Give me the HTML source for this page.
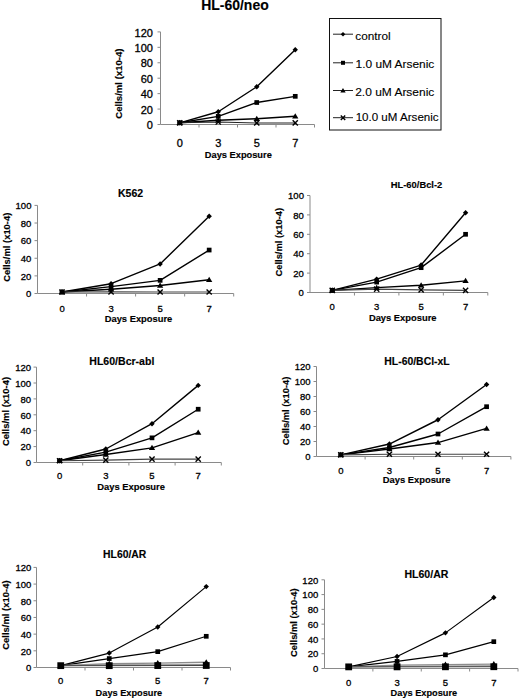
<!DOCTYPE html>
<html><head><meta charset="utf-8"><style>
html,body{margin:0;padding:0;background:#fff;overflow:hidden;width:520px;height:699px;}
svg{display:block;}
text{font-family:"Liberation Sans",sans-serif;}
</style></head><body>
<svg width="520" height="699" viewBox="0 0 520 699">
<rect width="520" height="699" fill="#fff"/>
<path d="M160.5,31.9V124.5H314.5" stroke="#8a8a8a" stroke-width="1" fill="none"/>
<path d="M157.5,124.50H160.5M157.5,109.07H160.5M157.5,93.63H160.5M157.5,78.20H160.5M157.5,62.77H160.5M157.5,47.33H160.5M157.5,31.90H160.5M199.00,124.5V127.5M237.50,124.5V127.5M276.00,124.5V127.5M314.50,124.5V127.5" stroke="#8a8a8a" stroke-width="1" fill="none"/>
<text transform="translate(146.74,129.20) scale(1.000,1)" font-size="11.0" font-weight="normal" fill="#000" stroke="#000" stroke-width="0.3">0</text>
<text transform="translate(140.63,113.77) scale(1.000,1)" font-size="11.0" font-weight="normal" fill="#000" stroke="#000" stroke-width="0.3">20</text>
<text transform="translate(140.63,98.33) scale(1.000,1)" font-size="11.0" font-weight="normal" fill="#000" stroke="#000" stroke-width="0.3">40</text>
<text transform="translate(140.63,82.90) scale(1.000,1)" font-size="11.0" font-weight="normal" fill="#000" stroke="#000" stroke-width="0.3">60</text>
<text transform="translate(140.63,67.47) scale(1.000,1)" font-size="11.0" font-weight="normal" fill="#000" stroke="#000" stroke-width="0.3">80</text>
<text transform="translate(134.53,52.03) scale(1.000,1)" font-size="11.0" font-weight="normal" fill="#000" stroke="#000" stroke-width="0.3">100</text>
<text transform="translate(134.53,36.60) scale(1.000,1)" font-size="11.0" font-weight="normal" fill="#000" stroke="#000" stroke-width="0.3">120</text>
<text transform="translate(176.70,147.00) scale(1.000,1)" font-size="11.0" font-weight="normal" fill="#000" stroke="#000" stroke-width="0.3">0</text>
<text transform="translate(215.22,147.00) scale(1.000,1)" font-size="11.0" font-weight="normal" fill="#000" stroke="#000" stroke-width="0.3">3</text>
<text transform="translate(253.70,147.00) scale(1.000,1)" font-size="11.0" font-weight="normal" fill="#000" stroke="#000" stroke-width="0.3">5</text>
<text transform="translate(292.20,147.00) scale(1.000,1)" font-size="11.0" font-weight="normal" fill="#000" stroke="#000" stroke-width="0.3">7</text>
<text transform="translate(201.29,10.40) scale(1.004,1)" font-size="13.9" font-weight="bold" fill="#000" stroke="#000" stroke-width="0.15">HL-60/neo</text>
<text transform="translate(204.80,157.80) scale(0.998,1)" font-size="9.3" font-weight="bold" fill="#000" stroke="#000" stroke-width="0.15">Days Exposure</text>
<text transform="translate(122.00,118.68) rotate(-90) scale(0.996,1)" font-size="9.6" font-weight="bold" fill="#000" stroke="#000" stroke-width="0.15">Cells/ml (x10-4)</text>
<path d="M179.75,122.80 L218.25,111.77 L256.75,86.77 L295.25,49.80" stroke="#000" stroke-width="1.4" fill="none" stroke-linejoin="round"/>
<path d="M179.75,122.80 L218.25,116.40 L256.75,102.51 L295.25,96.33" stroke="#000" stroke-width="1.4" fill="none" stroke-linejoin="round"/>
<path d="M179.75,122.80 L218.25,120.26 L256.75,118.79 L295.25,116.32" stroke="#000" stroke-width="1.4" fill="none" stroke-linejoin="round"/>
<path d="M179.75,122.80 L218.25,122.03 L256.75,122.96 L295.25,122.96" stroke="#222" stroke-width="1.1" fill="none" stroke-linejoin="round"/>
<polygon points="179.75,120.10 182.45,122.80 179.75,125.50 177.05,122.80" fill="#000"/>
<polygon points="218.25,109.07 220.95,111.77 218.25,114.47 215.55,111.77" fill="#000"/>
<polygon points="256.75,84.07 259.45,86.77 256.75,89.47 254.05,86.77" fill="#000"/>
<polygon points="295.25,47.10 297.95,49.80 295.25,52.50 292.55,49.80" fill="#000"/>
<rect x="177.40" y="120.45" width="4.70" height="4.70" fill="#000"/>
<rect x="215.90" y="114.05" width="4.70" height="4.70" fill="#000"/>
<rect x="254.40" y="100.16" width="4.70" height="4.70" fill="#000"/>
<rect x="292.90" y="93.98" width="4.70" height="4.70" fill="#000"/>
<polygon points="179.75,119.80 182.90,125.05 176.60,125.05" fill="#000"/>
<polygon points="218.25,117.26 221.40,122.51 215.10,122.51" fill="#000"/>
<polygon points="256.75,115.79 259.90,121.04 253.60,121.04" fill="#000"/>
<polygon points="295.25,113.32 298.40,118.57 292.10,118.57" fill="#000"/>
<path d="M177.15,120.20L182.35,125.40M182.35,120.20L177.15,125.40" stroke="#000" stroke-width="1.4" fill="none"/>
<path d="M215.65,119.43L220.85,124.63M220.85,119.43L215.65,124.63" stroke="#000" stroke-width="1.4" fill="none"/>
<path d="M254.15,120.36L259.35,125.56M259.35,120.36L254.15,125.56" stroke="#000" stroke-width="1.4" fill="none"/>
<path d="M292.65,120.36L297.85,125.56M297.85,120.36L292.65,125.56" stroke="#000" stroke-width="1.4" fill="none"/>
<path d="M37.5,205.4V293.5H233.7" stroke="#8a8a8a" stroke-width="1" fill="none"/>
<path d="M34.5,293.50H37.5M34.5,275.88H37.5M34.5,258.26H37.5M34.5,240.64H37.5M34.5,223.02H37.5M34.5,205.40H37.5M86.55,293.5V296.5M135.60,293.5V296.5M184.65,293.5V296.5M233.70,293.5V296.5" stroke="#8a8a8a" stroke-width="1" fill="none"/>
<text transform="translate(26.11,297.28) scale(1.000,1)" font-size="9.5" font-weight="normal" fill="#000" stroke="#000" stroke-width="0.3">0</text>
<text transform="translate(20.84,279.66) scale(1.000,1)" font-size="9.5" font-weight="normal" fill="#000" stroke="#000" stroke-width="0.3">20</text>
<text transform="translate(20.83,262.04) scale(1.000,1)" font-size="9.5" font-weight="normal" fill="#000" stroke="#000" stroke-width="0.3">40</text>
<text transform="translate(20.84,244.42) scale(1.000,1)" font-size="9.5" font-weight="normal" fill="#000" stroke="#000" stroke-width="0.3">60</text>
<text transform="translate(20.84,226.80) scale(1.000,1)" font-size="9.5" font-weight="normal" fill="#000" stroke="#000" stroke-width="0.3">80</text>
<text transform="translate(15.56,209.18) scale(1.000,1)" font-size="9.5" font-weight="normal" fill="#000" stroke="#000" stroke-width="0.3">100</text>
<text transform="translate(59.39,311.50) scale(1.000,1)" font-size="9.5" font-weight="normal" fill="#000" stroke="#000" stroke-width="0.3">0</text>
<text transform="translate(108.46,311.50) scale(1.000,1)" font-size="9.5" font-weight="normal" fill="#000" stroke="#000" stroke-width="0.3">3</text>
<text transform="translate(157.49,311.50) scale(1.000,1)" font-size="9.5" font-weight="normal" fill="#000" stroke="#000" stroke-width="0.3">5</text>
<text transform="translate(206.54,311.50) scale(1.000,1)" font-size="9.5" font-weight="normal" fill="#000" stroke="#000" stroke-width="0.3">7</text>
<text transform="translate(118.02,196.70) scale(1.020,1)" font-size="10.3" font-weight="bold" fill="#000" stroke="#000" stroke-width="0.15">K562</text>
<text transform="translate(104.69,321.80) scale(0.997,1)" font-size="9.4" font-weight="bold" fill="#000" stroke="#000" stroke-width="0.15">Days Exposure</text>
<text transform="translate(10.00,281.68) rotate(-90) scale(0.981,1)" font-size="9.6" font-weight="bold" fill="#000" stroke="#000" stroke-width="0.15">Cells/ml (x10-4)</text>
<path d="M62.02,291.99 L111.07,283.70 L160.12,263.97 L209.17,216.22" stroke="#000" stroke-width="1.4" fill="none" stroke-linejoin="round"/>
<path d="M62.02,291.99 L111.07,286.61 L160.12,280.36 L209.17,250.05" stroke="#000" stroke-width="1.4" fill="none" stroke-linejoin="round"/>
<path d="M62.02,291.99 L111.07,289.25 L160.12,285.55 L209.17,279.74" stroke="#000" stroke-width="1.4" fill="none" stroke-linejoin="round"/>
<path d="M62.02,291.99 L111.07,291.90 L160.12,291.99 L209.17,291.99" stroke="#444" stroke-width="1.1" fill="none" stroke-linejoin="round"/>
<polygon points="62.02,289.29 64.72,291.99 62.02,294.69 59.32,291.99" fill="#000"/>
<polygon points="111.07,281.00 113.77,283.70 111.07,286.40 108.37,283.70" fill="#000"/>
<polygon points="160.12,261.27 162.82,263.97 160.12,266.67 157.43,263.97" fill="#000"/>
<polygon points="209.17,213.52 211.87,216.22 209.17,218.92 206.47,216.22" fill="#000"/>
<rect x="59.67" y="289.64" width="4.70" height="4.70" fill="#000"/>
<rect x="108.72" y="284.26" width="4.70" height="4.70" fill="#000"/>
<rect x="157.78" y="278.01" width="4.70" height="4.70" fill="#000"/>
<rect x="206.82" y="247.70" width="4.70" height="4.70" fill="#000"/>
<polygon points="62.02,288.99 65.17,294.24 58.88,294.24" fill="#000"/>
<polygon points="111.07,286.25 114.22,291.50 107.92,291.50" fill="#000"/>
<polygon points="160.12,282.55 163.28,287.80 156.97,287.80" fill="#000"/>
<polygon points="209.17,276.74 212.32,281.99 206.02,281.99" fill="#000"/>
<path d="M59.42,289.39L64.62,294.59M64.62,289.39L59.42,294.59" stroke="#000" stroke-width="1.4" fill="none"/>
<path d="M108.47,289.30L113.67,294.50M113.67,289.30L108.47,294.50" stroke="#000" stroke-width="1.4" fill="none"/>
<path d="M157.53,289.39L162.72,294.59M162.72,289.39L157.53,294.59" stroke="#000" stroke-width="1.4" fill="none"/>
<path d="M206.57,289.39L211.77,294.59M211.77,289.39L206.57,294.59" stroke="#000" stroke-width="1.4" fill="none"/>
<path d="M310.0,195.5V292.5H487.8" stroke="#8a8a8a" stroke-width="1" fill="none"/>
<path d="M307.0,292.50H310.0M307.0,273.10H310.0M307.0,253.70H310.0M307.0,234.30H310.0M307.0,214.90H310.0M307.0,195.50H310.0M354.45,292.5V295.5M398.90,292.5V295.5M443.35,292.5V295.5M487.80,292.5V295.5" stroke="#8a8a8a" stroke-width="1" fill="none"/>
<text transform="translate(298.61,296.28) scale(1.000,1)" font-size="9.5" font-weight="normal" fill="#000" stroke="#000" stroke-width="0.3">0</text>
<text transform="translate(293.33,276.88) scale(1.000,1)" font-size="9.5" font-weight="normal" fill="#000" stroke="#000" stroke-width="0.3">20</text>
<text transform="translate(293.33,257.48) scale(1.000,1)" font-size="9.5" font-weight="normal" fill="#000" stroke="#000" stroke-width="0.3">40</text>
<text transform="translate(293.33,238.08) scale(1.000,1)" font-size="9.5" font-weight="normal" fill="#000" stroke="#000" stroke-width="0.3">60</text>
<text transform="translate(293.33,218.68) scale(1.000,1)" font-size="9.5" font-weight="normal" fill="#000" stroke="#000" stroke-width="0.3">80</text>
<text transform="translate(288.06,199.28) scale(1.000,1)" font-size="9.5" font-weight="normal" fill="#000" stroke="#000" stroke-width="0.3">100</text>
<text transform="translate(329.59,309.80) scale(1.000,1)" font-size="9.5" font-weight="normal" fill="#000" stroke="#000" stroke-width="0.3">0</text>
<text transform="translate(374.06,309.80) scale(1.000,1)" font-size="9.5" font-weight="normal" fill="#000" stroke="#000" stroke-width="0.3">3</text>
<text transform="translate(418.49,309.80) scale(1.000,1)" font-size="9.5" font-weight="normal" fill="#000" stroke="#000" stroke-width="0.3">5</text>
<text transform="translate(462.94,309.80) scale(1.000,1)" font-size="9.5" font-weight="normal" fill="#000" stroke="#000" stroke-width="0.3">7</text>
<text transform="translate(390.79,188.00) scale(0.946,1)" font-size="9.9" font-weight="bold" fill="#000" stroke="#000" stroke-width="0.15">HL-60/Bcl-2</text>
<text transform="translate(368.89,321.20) scale(0.996,1)" font-size="9.4" font-weight="bold" fill="#000" stroke="#000" stroke-width="0.15">Days Exposure</text>
<text transform="translate(282.40,276.47) rotate(-90) scale(0.974,1)" font-size="9.6" font-weight="bold" fill="#000" stroke="#000" stroke-width="0.15">Cells/ml (x10-4)</text>
<path d="M332.23,290.37 L376.68,279.11 L421.12,265.05 L465.58,212.77" stroke="#000" stroke-width="1.4" fill="none" stroke-linejoin="round"/>
<path d="M332.23,290.37 L376.68,282.12 L421.12,267.67 L465.58,234.30" stroke="#000" stroke-width="1.4" fill="none" stroke-linejoin="round"/>
<path d="M332.23,290.37 L376.68,287.65 L421.12,285.23 L465.58,280.86" stroke="#000" stroke-width="1.4" fill="none" stroke-linejoin="round"/>
<path d="M332.23,290.37 L376.68,289.11 L421.12,289.88 L465.58,290.37" stroke="#444" stroke-width="1.1" fill="none" stroke-linejoin="round"/>
<polygon points="332.23,287.67 334.93,290.37 332.23,293.07 329.53,290.37" fill="#000"/>
<polygon points="376.68,276.41 379.38,279.11 376.68,281.81 373.98,279.11" fill="#000"/>
<polygon points="421.12,262.35 423.82,265.05 421.12,267.75 418.43,265.05" fill="#000"/>
<polygon points="465.58,210.07 468.28,212.77 465.58,215.47 462.88,212.77" fill="#000"/>
<rect x="329.88" y="288.02" width="4.70" height="4.70" fill="#000"/>
<rect x="374.32" y="279.77" width="4.70" height="4.70" fill="#000"/>
<rect x="418.77" y="265.32" width="4.70" height="4.70" fill="#000"/>
<rect x="463.23" y="231.95" width="4.70" height="4.70" fill="#000"/>
<polygon points="332.23,287.37 335.38,292.62 329.08,292.62" fill="#000"/>
<polygon points="376.68,284.65 379.82,289.90 373.53,289.90" fill="#000"/>
<polygon points="421.12,282.23 424.27,287.48 417.98,287.48" fill="#000"/>
<polygon points="465.58,277.86 468.73,283.11 462.43,283.11" fill="#000"/>
<path d="M329.62,287.77L334.83,292.97M334.83,287.77L329.62,292.97" stroke="#000" stroke-width="1.4" fill="none"/>
<path d="M374.07,286.50L379.28,291.71M379.28,286.50L374.07,291.71" stroke="#000" stroke-width="1.4" fill="none"/>
<path d="M418.52,287.28L423.73,292.48M423.73,287.28L418.52,292.48" stroke="#000" stroke-width="1.4" fill="none"/>
<path d="M462.98,287.77L468.18,292.97M468.18,287.77L462.98,292.97" stroke="#000" stroke-width="1.4" fill="none"/>
<path d="M36.5,367.1V462.5H221.3" stroke="#8a8a8a" stroke-width="1" fill="none"/>
<path d="M33.5,462.50H36.5M33.5,446.60H36.5M33.5,430.70H36.5M33.5,414.80H36.5M33.5,398.90H36.5M33.5,383.00H36.5M33.5,367.10H36.5M82.70,462.5V465.5M128.90,462.5V465.5M175.10,462.5V465.5M221.30,462.5V465.5" stroke="#8a8a8a" stroke-width="1" fill="none"/>
<text transform="translate(25.81,466.28) scale(1.000,1)" font-size="9.5" font-weight="normal" fill="#000" stroke="#000" stroke-width="0.3">0</text>
<text transform="translate(20.53,450.38) scale(1.000,1)" font-size="9.5" font-weight="normal" fill="#000" stroke="#000" stroke-width="0.3">20</text>
<text transform="translate(20.53,434.48) scale(1.000,1)" font-size="9.5" font-weight="normal" fill="#000" stroke="#000" stroke-width="0.3">40</text>
<text transform="translate(20.53,418.58) scale(1.000,1)" font-size="9.5" font-weight="normal" fill="#000" stroke="#000" stroke-width="0.3">60</text>
<text transform="translate(20.54,402.68) scale(1.000,1)" font-size="9.5" font-weight="normal" fill="#000" stroke="#000" stroke-width="0.3">80</text>
<text transform="translate(15.26,386.78) scale(1.000,1)" font-size="9.5" font-weight="normal" fill="#000" stroke="#000" stroke-width="0.3">100</text>
<text transform="translate(15.26,370.88) scale(1.000,1)" font-size="9.5" font-weight="normal" fill="#000" stroke="#000" stroke-width="0.3">120</text>
<text transform="translate(56.96,479.20) scale(1.000,1)" font-size="9.5" font-weight="normal" fill="#000" stroke="#000" stroke-width="0.3">0</text>
<text transform="translate(103.19,479.20) scale(1.000,1)" font-size="9.5" font-weight="normal" fill="#000" stroke="#000" stroke-width="0.3">3</text>
<text transform="translate(149.36,479.20) scale(1.000,1)" font-size="9.5" font-weight="normal" fill="#000" stroke="#000" stroke-width="0.3">5</text>
<text transform="translate(195.56,479.20) scale(1.000,1)" font-size="9.5" font-weight="normal" fill="#000" stroke="#000" stroke-width="0.3">7</text>
<text transform="translate(89.31,364.70) scale(1.056,1)" font-size="10.0" font-weight="bold" fill="#000" stroke="#000" stroke-width="0.15">HL60/Bcr-abl</text>
<text transform="translate(97.19,490.20) scale(1.000,1)" font-size="9.4" font-weight="bold" fill="#000" stroke="#000" stroke-width="0.15">Days Exposure</text>
<text transform="translate(8.70,446.08) rotate(-90) scale(0.983,1)" font-size="9.6" font-weight="bold" fill="#000" stroke="#000" stroke-width="0.15">Cells/ml (x10-4)</text>
<path d="M59.60,460.75 L105.80,448.99 L152.00,423.70 L198.20,385.38" stroke="#000" stroke-width="1.4" fill="none" stroke-linejoin="round"/>
<path d="M59.60,460.75 L105.80,452.17 L152.00,437.86 L198.20,409.24" stroke="#000" stroke-width="1.4" fill="none" stroke-linejoin="round"/>
<path d="M59.60,460.75 L105.80,454.55 L152.00,447.87 L198.20,432.61" stroke="#000" stroke-width="1.4" fill="none" stroke-linejoin="round"/>
<path d="M59.60,460.75 L105.80,460.12 L152.00,459.16 L198.20,459.08" stroke="#444" stroke-width="1.1" fill="none" stroke-linejoin="round"/>
<polygon points="59.60,458.05 62.30,460.75 59.60,463.45 56.90,460.75" fill="#000"/>
<polygon points="105.80,446.29 108.50,448.99 105.80,451.69 103.10,448.99" fill="#000"/>
<polygon points="152.00,421.00 154.70,423.70 152.00,426.40 149.30,423.70" fill="#000"/>
<polygon points="198.20,382.69 200.90,385.38 198.20,388.08 195.50,385.38" fill="#000"/>
<rect x="57.25" y="458.40" width="4.70" height="4.70" fill="#000"/>
<rect x="103.45" y="449.81" width="4.70" height="4.70" fill="#000"/>
<rect x="149.65" y="435.50" width="4.70" height="4.70" fill="#000"/>
<rect x="195.85" y="406.88" width="4.70" height="4.70" fill="#000"/>
<polygon points="59.60,457.75 62.75,463.00 56.45,463.00" fill="#000"/>
<polygon points="105.80,451.55 108.95,456.80 102.65,456.80" fill="#000"/>
<polygon points="152.00,444.87 155.15,450.12 148.85,450.12" fill="#000"/>
<polygon points="198.20,429.61 201.35,434.86 195.05,434.86" fill="#000"/>
<path d="M57.00,458.15L62.20,463.35M62.20,458.15L57.00,463.35" stroke="#000" stroke-width="1.4" fill="none"/>
<path d="M103.20,457.51L108.40,462.72M108.40,457.51L103.20,462.72" stroke="#000" stroke-width="1.4" fill="none"/>
<path d="M149.40,456.56L154.60,461.76M154.60,456.56L149.40,461.76" stroke="#000" stroke-width="1.4" fill="none"/>
<path d="M195.60,456.48L200.80,461.68M200.80,456.48L195.60,461.68" stroke="#000" stroke-width="1.4" fill="none"/>
<path d="M316.5,366.5V456.5H510.9" stroke="#8a8a8a" stroke-width="1" fill="none"/>
<path d="M313.5,456.50H316.5M313.5,441.50H316.5M313.5,426.50H316.5M313.5,411.50H316.5M313.5,396.50H316.5M313.5,381.50H316.5M313.5,366.50H316.5M365.10,456.5V459.5M413.70,456.5V459.5M462.30,456.5V459.5M510.90,456.5V459.5" stroke="#8a8a8a" stroke-width="1" fill="none"/>
<text transform="translate(305.31,460.28) scale(1.000,1)" font-size="9.5" font-weight="normal" fill="#000" stroke="#000" stroke-width="0.3">0</text>
<text transform="translate(300.03,445.28) scale(1.000,1)" font-size="9.5" font-weight="normal" fill="#000" stroke="#000" stroke-width="0.3">20</text>
<text transform="translate(300.03,430.28) scale(1.000,1)" font-size="9.5" font-weight="normal" fill="#000" stroke="#000" stroke-width="0.3">40</text>
<text transform="translate(300.03,415.28) scale(1.000,1)" font-size="9.5" font-weight="normal" fill="#000" stroke="#000" stroke-width="0.3">60</text>
<text transform="translate(300.03,400.28) scale(1.000,1)" font-size="9.5" font-weight="normal" fill="#000" stroke="#000" stroke-width="0.3">80</text>
<text transform="translate(294.76,385.28) scale(1.000,1)" font-size="9.5" font-weight="normal" fill="#000" stroke="#000" stroke-width="0.3">100</text>
<text transform="translate(294.76,370.28) scale(1.000,1)" font-size="9.5" font-weight="normal" fill="#000" stroke="#000" stroke-width="0.3">120</text>
<text transform="translate(338.16,473.70) scale(1.000,1)" font-size="9.5" font-weight="normal" fill="#000" stroke="#000" stroke-width="0.3">0</text>
<text transform="translate(386.79,473.70) scale(1.000,1)" font-size="9.5" font-weight="normal" fill="#000" stroke="#000" stroke-width="0.3">3</text>
<text transform="translate(435.36,473.70) scale(1.000,1)" font-size="9.5" font-weight="normal" fill="#000" stroke="#000" stroke-width="0.3">5</text>
<text transform="translate(483.96,473.70) scale(1.000,1)" font-size="9.5" font-weight="normal" fill="#000" stroke="#000" stroke-width="0.3">7</text>
<text transform="translate(384.32,364.90) scale(1.021,1)" font-size="10.2" font-weight="bold" fill="#000" stroke="#000" stroke-width="0.15">HL-60/BCl-xL</text>
<text transform="translate(382.69,483.00) scale(1.000,1)" font-size="9.4" font-weight="bold" fill="#000" stroke="#000" stroke-width="0.15">Days Exposure</text>
<text transform="translate(288.90,445.17) rotate(-90) scale(0.974,1)" font-size="9.6" font-weight="bold" fill="#000" stroke="#000" stroke-width="0.15">Cells/ml (x10-4)</text>
<path d="M340.80,454.85 L389.40,444.05 L438.00,419.75 L486.60,384.50" stroke="#000" stroke-width="1.4" fill="none" stroke-linejoin="round"/>
<path d="M340.80,454.85 L389.40,447.50 L438.00,434.00 L486.60,406.70" stroke="#000" stroke-width="1.4" fill="none" stroke-linejoin="round"/>
<path d="M340.80,454.85 L389.40,449.00 L438.00,442.55 L486.60,428.45" stroke="#000" stroke-width="1.4" fill="none" stroke-linejoin="round"/>
<path d="M340.80,454.85 L389.40,454.25 L438.00,454.25 L486.60,454.25" stroke="#444" stroke-width="1.1" fill="none" stroke-linejoin="round"/>
<polygon points="340.80,452.15 343.50,454.85 340.80,457.55 338.10,454.85" fill="#000"/>
<polygon points="389.40,441.35 392.10,444.05 389.40,446.75 386.70,444.05" fill="#000"/>
<polygon points="438.00,417.05 440.70,419.75 438.00,422.45 435.30,419.75" fill="#000"/>
<polygon points="486.60,381.80 489.30,384.50 486.60,387.20 483.90,384.50" fill="#000"/>
<rect x="338.45" y="452.50" width="4.70" height="4.70" fill="#000"/>
<rect x="387.05" y="445.15" width="4.70" height="4.70" fill="#000"/>
<rect x="435.65" y="431.65" width="4.70" height="4.70" fill="#000"/>
<rect x="484.25" y="404.35" width="4.70" height="4.70" fill="#000"/>
<polygon points="340.80,451.85 343.95,457.10 337.65,457.10" fill="#000"/>
<polygon points="389.40,446.00 392.55,451.25 386.25,451.25" fill="#000"/>
<polygon points="438.00,439.55 441.15,444.80 434.85,444.80" fill="#000"/>
<polygon points="486.60,425.45 489.75,430.70 483.45,430.70" fill="#000"/>
<path d="M338.20,452.25L343.40,457.45M343.40,452.25L338.20,457.45" stroke="#000" stroke-width="1.4" fill="none"/>
<path d="M386.80,451.65L392.00,456.85M392.00,451.65L386.80,456.85" stroke="#000" stroke-width="1.4" fill="none"/>
<path d="M435.40,451.65L440.60,456.85M440.60,451.65L435.40,456.85" stroke="#000" stroke-width="1.4" fill="none"/>
<path d="M484.00,451.65L489.20,456.85M489.20,451.65L484.00,456.85" stroke="#000" stroke-width="1.4" fill="none"/>
<path d="M36.5,567.4V667.5H230.5" stroke="#8a8a8a" stroke-width="1" fill="none"/>
<path d="M33.5,667.50H36.5M33.5,650.82H36.5M33.5,634.13H36.5M33.5,617.45H36.5M33.5,600.77H36.5M33.5,584.08H36.5M33.5,567.40H36.5M85.00,667.5V670.5M133.50,667.5V670.5M182.00,667.5V670.5M230.50,667.5V670.5" stroke="#8a8a8a" stroke-width="1" fill="none"/>
<text transform="translate(26.01,671.28) scale(1.000,1)" font-size="9.5" font-weight="normal" fill="#000" stroke="#000" stroke-width="0.3">0</text>
<text transform="translate(20.73,654.59) scale(1.000,1)" font-size="9.5" font-weight="normal" fill="#000" stroke="#000" stroke-width="0.3">20</text>
<text transform="translate(20.73,637.91) scale(1.000,1)" font-size="9.5" font-weight="normal" fill="#000" stroke="#000" stroke-width="0.3">40</text>
<text transform="translate(20.73,621.23) scale(1.000,1)" font-size="9.5" font-weight="normal" fill="#000" stroke="#000" stroke-width="0.3">60</text>
<text transform="translate(20.73,604.54) scale(1.000,1)" font-size="9.5" font-weight="normal" fill="#000" stroke="#000" stroke-width="0.3">80</text>
<text transform="translate(15.46,587.86) scale(1.000,1)" font-size="9.5" font-weight="normal" fill="#000" stroke="#000" stroke-width="0.3">100</text>
<text transform="translate(15.46,571.18) scale(1.000,1)" font-size="9.5" font-weight="normal" fill="#000" stroke="#000" stroke-width="0.3">120</text>
<text transform="translate(58.11,684.20) scale(1.000,1)" font-size="9.5" font-weight="normal" fill="#000" stroke="#000" stroke-width="0.3">0</text>
<text transform="translate(106.64,684.20) scale(1.000,1)" font-size="9.5" font-weight="normal" fill="#000" stroke="#000" stroke-width="0.3">3</text>
<text transform="translate(155.11,684.20) scale(1.000,1)" font-size="9.5" font-weight="normal" fill="#000" stroke="#000" stroke-width="0.3">5</text>
<text transform="translate(203.61,684.20) scale(1.000,1)" font-size="9.5" font-weight="normal" fill="#000" stroke="#000" stroke-width="0.3">7</text>
<text transform="translate(103.12,557.70) scale(0.999,1)" font-size="10.4" font-weight="bold" fill="#000" stroke="#000" stroke-width="0.15">HL60/AR</text>
<text transform="translate(95.60,695.90) scale(0.993,1)" font-size="9.3" font-weight="bold" fill="#000" stroke="#000" stroke-width="0.15">Days Exposure</text>
<text transform="translate(8.90,649.78) rotate(-90) scale(0.987,1)" font-size="9.6" font-weight="bold" fill="#000" stroke="#000" stroke-width="0.15">Cells/ml (x10-4)</text>
<path d="M60.75,665.66 L109.25,653.07 L157.75,626.96 L206.25,586.59" stroke="#000" stroke-width="1.15" fill="none" stroke-linejoin="round"/>
<path d="M60.75,665.66 L109.25,658.57 L157.75,651.65 L206.25,636.30" stroke="#000" stroke-width="1.15" fill="none" stroke-linejoin="round"/>
<path d="M60.75,665.66 L109.25,665.00 L157.75,664.83 L206.25,664.66" stroke="#8c8c8c" stroke-width="1.3" fill="none" stroke-linejoin="round"/>
<path d="M60.75,665.66 L109.25,663.75 L157.75,663.08 L206.25,662.24" stroke="#8c8c8c" stroke-width="1.3" fill="none" stroke-linejoin="round"/>
<path d="M60.75,665.66 L109.25,665.66 L157.75,665.58 L206.25,665.50" stroke="#444" stroke-width="1.0" fill="none" stroke-linejoin="round"/>
<path d="M60.75,665.66 L109.25,663.75 L157.75,663.08 L206.25,662.24" stroke="none" stroke-width="1.15" fill="none" stroke-linejoin="round"/>
<polygon points="60.75,662.96 63.45,665.66 60.75,668.36 58.05,665.66" fill="#000"/>
<polygon points="109.25,650.37 111.95,653.07 109.25,655.77 106.55,653.07" fill="#000"/>
<polygon points="157.75,624.26 160.45,626.96 157.75,629.66 155.05,626.96" fill="#000"/>
<polygon points="206.25,583.89 208.95,586.59 206.25,589.29 203.55,586.59" fill="#000"/>
<rect x="58.40" y="663.31" width="4.70" height="4.70" fill="#000"/>
<rect x="106.90" y="656.22" width="4.70" height="4.70" fill="#000"/>
<rect x="155.40" y="649.30" width="4.70" height="4.70" fill="#000"/>
<rect x="203.90" y="633.95" width="4.70" height="4.70" fill="#000"/>
<rect x="57.35" y="662.26" width="6.80" height="6.80" fill="#000"/>
<rect x="105.85" y="662.26" width="6.80" height="6.80" fill="#000"/>
<rect x="154.35" y="662.18" width="6.80" height="6.80" fill="#000"/>
<rect x="202.85" y="662.10" width="6.80" height="6.80" fill="#000"/>
<polygon points="60.75,662.66 63.90,667.91 57.60,667.91" fill="#000"/>
<polygon points="109.25,660.75 112.40,666.00 106.10,666.00" fill="#000"/>
<polygon points="157.75,660.08 160.90,665.33 154.60,665.33" fill="#000"/>
<polygon points="206.25,659.24 209.40,664.49 203.10,664.49" fill="#000"/>
<path d="M324.5,579.8V668.5H518.0" stroke="#8a8a8a" stroke-width="1" fill="none"/>
<path d="M321.5,668.50H324.5M321.5,653.72H324.5M321.5,638.93H324.5M321.5,624.15H324.5M321.5,609.37H324.5M321.5,594.58H324.5M321.5,579.80H324.5M372.88,668.5V671.5M421.25,668.5V671.5M469.62,668.5V671.5M518.00,668.5V671.5" stroke="#8a8a8a" stroke-width="1" fill="none"/>
<text transform="translate(312.91,672.28) scale(1.000,1)" font-size="9.5" font-weight="normal" fill="#000" stroke="#000" stroke-width="0.3">0</text>
<text transform="translate(307.63,657.49) scale(1.000,1)" font-size="9.5" font-weight="normal" fill="#000" stroke="#000" stroke-width="0.3">20</text>
<text transform="translate(307.63,642.71) scale(1.000,1)" font-size="9.5" font-weight="normal" fill="#000" stroke="#000" stroke-width="0.3">40</text>
<text transform="translate(307.63,627.93) scale(1.000,1)" font-size="9.5" font-weight="normal" fill="#000" stroke="#000" stroke-width="0.3">60</text>
<text transform="translate(307.63,613.14) scale(1.000,1)" font-size="9.5" font-weight="normal" fill="#000" stroke="#000" stroke-width="0.3">80</text>
<text transform="translate(302.36,598.36) scale(1.000,1)" font-size="9.5" font-weight="normal" fill="#000" stroke="#000" stroke-width="0.3">100</text>
<text transform="translate(302.36,583.58) scale(1.000,1)" font-size="9.5" font-weight="normal" fill="#000" stroke="#000" stroke-width="0.3">120</text>
<text transform="translate(346.05,685.70) scale(1.000,1)" font-size="9.5" font-weight="normal" fill="#000" stroke="#000" stroke-width="0.3">0</text>
<text transform="translate(394.45,685.70) scale(1.000,1)" font-size="9.5" font-weight="normal" fill="#000" stroke="#000" stroke-width="0.3">3</text>
<text transform="translate(442.80,685.70) scale(1.000,1)" font-size="9.5" font-weight="normal" fill="#000" stroke="#000" stroke-width="0.3">5</text>
<text transform="translate(491.18,685.70) scale(1.000,1)" font-size="9.5" font-weight="normal" fill="#000" stroke="#000" stroke-width="0.3">7</text>
<text transform="translate(404.41,577.70) scale(1.016,1)" font-size="10.4" font-weight="bold" fill="#000" stroke="#000" stroke-width="0.15">HL60/AR</text>
<text transform="translate(390.60,695.90) scale(0.993,1)" font-size="9.3" font-weight="bold" fill="#000" stroke="#000" stroke-width="0.15">Days Exposure</text>
<text transform="translate(297.30,656.97) rotate(-90) scale(0.973,1)" font-size="9.6" font-weight="bold" fill="#000" stroke="#000" stroke-width="0.15">Cells/ml (x10-4)</text>
<path d="M348.69,666.87 L397.06,656.45 L445.44,632.87 L493.81,597.54" stroke="#000" stroke-width="1.15" fill="none" stroke-linejoin="round"/>
<path d="M348.69,666.87 L397.06,661.40 L445.44,654.83 L493.81,641.67" stroke="#000" stroke-width="1.15" fill="none" stroke-linejoin="round"/>
<path d="M348.69,666.87 L397.06,666.28 L445.44,666.13 L493.81,665.99" stroke="#8c8c8c" stroke-width="1.3" fill="none" stroke-linejoin="round"/>
<path d="M348.69,666.87 L397.06,665.17 L445.44,664.58 L493.81,664.07" stroke="#8c8c8c" stroke-width="1.3" fill="none" stroke-linejoin="round"/>
<path d="M348.69,666.87 L397.06,666.87 L445.44,666.80 L493.81,666.73" stroke="#444" stroke-width="1.0" fill="none" stroke-linejoin="round"/>
<path d="M348.69,666.87 L397.06,665.17 L445.44,664.58 L493.81,664.07" stroke="none" stroke-width="1.15" fill="none" stroke-linejoin="round"/>
<polygon points="348.69,664.17 351.39,666.87 348.69,669.57 345.99,666.87" fill="#000"/>
<polygon points="397.06,653.75 399.76,656.45 397.06,659.15 394.36,656.45" fill="#000"/>
<polygon points="445.44,630.17 448.14,632.87 445.44,635.57 442.74,632.87" fill="#000"/>
<polygon points="493.81,594.84 496.51,597.54 493.81,600.24 491.11,597.54" fill="#000"/>
<rect x="346.34" y="664.52" width="4.70" height="4.70" fill="#000"/>
<rect x="394.71" y="659.05" width="4.70" height="4.70" fill="#000"/>
<rect x="443.09" y="652.48" width="4.70" height="4.70" fill="#000"/>
<rect x="491.46" y="639.32" width="4.70" height="4.70" fill="#000"/>
<rect x="345.29" y="663.47" width="6.80" height="6.80" fill="#000"/>
<rect x="393.66" y="663.47" width="6.80" height="6.80" fill="#000"/>
<rect x="442.04" y="663.40" width="6.80" height="6.80" fill="#000"/>
<rect x="490.41" y="663.33" width="6.80" height="6.80" fill="#000"/>
<polygon points="348.69,663.87 351.84,669.12 345.54,669.12" fill="#000"/>
<polygon points="397.06,662.17 400.21,667.42 393.91,667.42" fill="#000"/>
<polygon points="445.44,661.58 448.59,666.83 442.29,666.83" fill="#000"/>
<polygon points="493.81,661.07 496.96,666.32 490.66,666.32" fill="#000"/>
<rect x="329.5" y="18.5" width="111.5" height="111.5" fill="none" stroke="#111" stroke-width="1"/>
<path d="M333,34.2H353" stroke="#222" stroke-width="1"/>
<polygon points="343.00,31.91 345.30,34.20 343.00,36.50 340.70,34.20" fill="#000"/>
<text transform="translate(355.27,39.50) scale(1.035,1)" font-size="11.4" font-weight="normal" fill="#000" stroke="#000" stroke-width="0.12">control</text>
<path d="M333,62.8H353" stroke="#222" stroke-width="1"/>
<rect x="341.00" y="60.80" width="4.00" height="4.00" fill="#000"/>
<text transform="translate(355.51,67.70) scale(1.046,1)" font-size="11.4" font-weight="normal" fill="#000" stroke="#000" stroke-width="0.12">1.0 uM Arsenic</text>
<path d="M333,90.5H353" stroke="#222" stroke-width="1"/>
<polygon points="343.00,87.95 345.68,92.41 340.32,92.41" fill="#000"/>
<text transform="translate(355.20,95.60) scale(1.050,1)" font-size="11.4" font-weight="normal" fill="#000" stroke="#000" stroke-width="0.12">2.0 uM Arsenic</text>
<path d="M333,117.7H353" stroke="#222" stroke-width="1"/>
<path d="M340.79,115.49L345.21,119.91M345.21,115.49L340.79,119.91" stroke="#000" stroke-width="1.4" fill="none"/>
<text transform="translate(355.63,121.00) scale(1.016,1)" font-size="11.4" font-weight="normal" fill="#000" stroke="#000" stroke-width="0.12">10.0 uM Arsenic</text>
</svg>
</body></html>
